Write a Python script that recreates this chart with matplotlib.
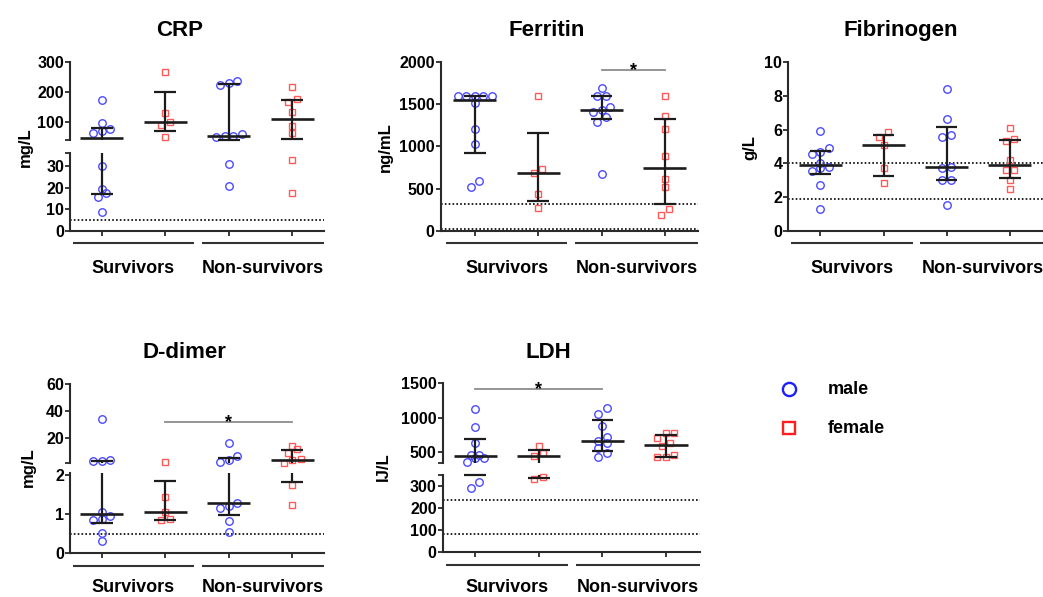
import numpy as np
import matplotlib
matplotlib.use("Agg")
import matplotlib.pyplot as plt
from matplotlib import transforms

plt.rcParams["font.family"] = ["Liberation Sans", "DejaVu Sans"]
plt.rcParams["font.weight"] = "bold"

# ---------------------------------------------------------------- data
groups = ["Survivors", "Non-survivors"]
sexes = ["male", "female"]

# column order: survivors-male, survivors-female, non-survivors-male, non-survivors-female
crp_surv_m = [173, 97, 69, 61, 74, 30, 17.3, 15.5, 19.3, 8.7]
crp_surv_f = [268, 130, 100, 89, 49.5]
crp_non_m = [236, 223, 231, 58, 53, 50, 48, 30.8, 20.7]
crp_non_f = [216, 175, 167, 134, 85, 61, 32.6, 17.6]

fer_surv_m = [1600, 1600, 1600, 1600, 1600, 1513, 1208, 1030, 590, 515]
fer_surv_f = [1600, 729, 681, 436, 265]
fer_non_m = [1699, 1600, 1600, 1466, 1433, 1413, 1347, 1295, 673]
fer_non_f = [1600, 1366, 1208, 887, 610, 515, 257, 186]

fib_surv_m = [5.92, 4.93, 4.69, 4.55, 4.04, 3.76, 3.70, 3.56, 2.69, 1.27]
fib_surv_f = [5.84, 5.58, 5.09, 3.70, 2.81]
fib_non_m = [8.42, 6.61, 5.68, 5.58, 3.80, 3.70, 2.99, 2.99, 1.50]
fib_non_f = [6.08, 5.43, 5.33, 4.20, 3.58, 3.58, 3.01, 2.50]

dd_surv_m = [34.2, 4.0, 3.3, 3.3, 1.05, 0.96, 0.87, 0.85, 0.51, 0.32]
dd_surv_f = [2.27, 1.45, 1.05, 0.88, 0.85]
dd_non_m = [16.3, 7.0, 4.05, 2.8, 1.28, 1.22, 1.15, 0.83, 0.54]
dd_non_f = [14.6, 11.9, 9.0, 4.5, 4.1, 2.1, 1.75, 1.24]

ldh_surv_m = [1123, 872, 630, 461, 461, 423, 413, 358, 315, 288]
ldh_surv_f = [597, 485, 447, 337, 328]
ldh_non_m = [1138, 1056, 886, 717, 670, 630, 568, 485, 428]
ldh_non_f = [785, 775, 703, 630, 592, 461, 428, 428]

# reference-range limits (dotted lines)
crp_ref = [5]
fer_ref = [320, 15]
fib_ref = [4.0, 1.9]
dd_ref = [0.5]
ldh_ref = [235, 81]

# ---------------------------------------------------------------- style
W, H = 1043, 597
fig = plt.figure(figsize=(W / 100, H / 100), dpi=100)

AX_COLOR = "#2a2a2a"
BAR_COLOR = "#1c1c1c"
SIG_COLOR = "#8c8c8c"
MALE_C = "#4a4aff"
FEMALE_C = "#ff5a5a"
TICK_FS = 11.5
GROUP_FS = 13
TITLE_FS = 16
YLAB_FS = 12


def rect(x0, y0, x1, y1):
    """Figure-fraction rectangle from pixel edges (origin top-left)."""
    return [x0 / W, 1 - y1 / H, (x1 - x0) / W, (y1 - y0) / H]


def make_segment(x0, x1, y0, y1, xlim, ylim, ticks, labels, bottom):
    ax = fig.add_axes(rect(x0, y0, x1, y1))
    ax.set_xlim(*xlim)
    ax.set_ylim(*ylim)
    ax.patch.set_alpha(0)
    for s in ("top", "right"):
        ax.spines[s].set_visible(False)
    ax.spines["left"].set_color(AX_COLOR)
    ax.spines["left"].set_linewidth(1.5)
    ax.set_yticks(ticks)
    ax.set_yticklabels(labels)
    ax.tick_params(axis="y", length=3.3, width=1.3, color=AX_COLOR, pad=1.0,
                   labelsize=TICK_FS)
    if bottom:
        ax.spines["bottom"].set_color(AX_COLOR)
        ax.spines["bottom"].set_linewidth(1.5)
        ax.set_xticks(range(4))
        ax.set_xticklabels([])
        ax.tick_params(axis="x", length=3.8, width=1.3, color=AX_COLOR)
    else:
        ax.spines["bottom"].set_visible(False)
        ax.set_xticks([])
    return ax


def rows_offsets(ypix, thr=6.5, step=8.5):
    """Horizontal pixel offsets so that close values sit side by side."""
    order = np.argsort(ypix, kind="stable")
    offs = np.zeros(len(ypix))
    row = []

    def flush(r):
        n = len(r)
        for k, j in enumerate(r):
            offs[j] = (k - (n - 1) / 2) * step

    for i in order:
        if row and ypix[i] - ypix[row[0]] > thr:
            flush(row)
            row = []
        row.append(i)
    flush(row)
    return offs


def draw_panel(series, segs, xlim, xpix, refs, sig, title, title_xy, ylabel, ylabel_xy,
               label_drop=42.6):
    x0, x1 = xpix
    axes = []
    for i, (ytop, ybot, ylim, ticks, labels) in enumerate(segs):
        axes.append(make_segment(x0, x1, ytop, ybot, xlim, ylim, ticks, labels, i == 0))
    lower = axes[0]

    def seg_for(v):
        for ax in axes:
            lo, hi = ax.get_ylim()
            if v <= hi:
                return ax
        return axes[-1]

    # reference range
    for r in refs:
        seg_for(r).axhline(r, color="black", lw=1.2, ls=(0, (1, 1.3)), zorder=1)

    # points + median/IQR
    for gx, vals in enumerate(series):
        vals = np.asarray(vals, float)
        color = MALE_C if gx % 2 == 0 else FEMALE_C
        marker = "o" if gx % 2 == 0 else "s"
        ms = 5.4 if marker == "o" else 4.9
        ypix = np.array([seg_for(v).transData.transform((gx, v))[1] for v in vals])
        offs = rows_offsets(ypix)
        for v, off in zip(vals, offs):
            ax = seg_for(v)
            xp, yp = ax.transData.transform((gx, v))
            xd = ax.transData.inverted().transform((xp + off, yp))[0]
            ax.plot(xd, v, marker=marker, ms=ms, mfc="none", mec=color, mew=1.0,
                    ls="none", clip_on=False, zorder=2)
        q1, med, q3 = np.percentile(vals, [25, 50, 75], method="weibull")
        kw = dict(color=BAR_COLOR, solid_capstyle="butt", zorder=4, clip_on=False)
        for ax in axes:
            lo, hi = ax.get_ylim()
            inside = lambda y: lo <= y <= hi
            if inside(med):
                ax.plot([gx - 0.34, gx + 0.34], [med, med], lw=1.9, **kw)
            for q in (q1, q3):
                if inside(q):
                    ax.plot([gx - 0.17, gx + 0.17], [q, q], lw=1.6, **kw)
            a, b = max(q1, lo), min(q3, hi)
            if a < b:
                ax.plot([gx, gx], [a, b], lw=1.6, **kw)

    # significance bar
    if sig is not None:
        a, b, yv = sig
        ax = seg_for(yv)
        ax.plot([a, b], [yv, yv], color=SIG_COLOR, lw=1.3, clip_on=False, zorder=3)
        ax.annotate("*", xy=((a + b) / 2, yv), xytext=(0, -3.6), textcoords="offset points",
                    ha="center", va="baseline", fontsize=13, annotation_clip=False)

    # group lines and labels under the x axis
    blend = transforms.blended_transform_factory(lower.transData, lower.transAxes)
    line_tr = blend + transforms.ScaledTranslation(0, -12.6 / 100, fig.dpi_scale_trans)
    text_tr = blend + transforms.ScaledTranslation(0, -label_drop / 100, fig.dpi_scale_trans)
    spans = [(-0.46, 1.46), (1.58, xlim[1])]
    for (a, b), name in zip(spans, groups):
        lower.plot([a, b], [0, 0], transform=line_tr, color="#333333", lw=1.5,
                   clip_on=False, solid_capstyle="butt")
        lower.text((a + b) / 2, 0, name, transform=text_tr, ha="center", va="baseline",
                   fontsize=GROUP_FS, clip_on=False)

    fig.text(title_xy[0] / W, 1 - title_xy[1] / H, title, ha="center", va="baseline",
             fontsize=TITLE_FS)
    fig.text(ylabel_xy[0] / W, 1 - ylabel_xy[1] / H, ylabel, ha="center", va="center",
             rotation=90, fontsize=YLAB_FS)


# CRP (broken axis)
draw_panel([crp_surv_m, crp_surv_f, crp_non_m, crp_non_f],
           [(153.0, 230.7, (0, 36), [0, 10, 20, 30, 36], ["0", "10", "20", "30", ""]),
            (62.3, 140.0, (38, 300), [38, 100, 200, 300], ["", "100", "200", "300"])],
           (-0.5, 3.5), (70, 324), crp_ref, None,
           "CRP", (180, 36), "mg/L", (25, 147))

# Ferritin
draw_panel([fer_surv_m, fer_surv_f, fer_non_m, fer_non_f],
           [(62.3, 230.7, (0, 2000), [0, 500, 1000, 1500, 2000],
             ["0", "500", "1000", "1500", "2000"])],
           (-0.54, 3.52), (440.7, 697.8), fer_ref, (2, 3, 1908),
           "Ferritin", (546.3, 36), "ng/mL", (385, 147))

# Fibrinogen
draw_panel([fib_surv_m, fib_surv_f, fib_non_m, fib_non_f],
           [(62.3, 230.7, (0, 10), [0, 2, 4, 6, 8, 10], ["0", "2", "4", "6", "8", "10"])],
           (-0.51, 3.55), (788.3, 1044.5), fib_ref, None,
           "Fibrinogen", (900.7, 36), "g/L", (750, 147))

# D-dimer (broken axis)
draw_panel([dd_surv_m, dd_surv_f, dd_non_m, dd_non_f],
           [(473.3, 553.3, (0, 2.05), [0, 1, 2], ["0", "1", "2"]),
            (384.0, 462.8, (2, 60), [2, 20, 40, 60], ["", "20", "40", "60"])],
           (-0.5, 3.5), (70, 324), dd_ref, (1, 3, 32.2),
           "D-dimer", (184, 358.3), "mg/L", (28.3, 467), label_drop=38.8)

# LDH (broken axis)
draw_panel([ldh_surv_m, ldh_surv_f, ldh_non_m, ldh_non_f],
           [(474.6, 552.3, (0, 350), [0, 100, 200, 300, 350], ["0", "100", "200", "300", ""]),
            (383.3, 462.7, (350, 1500), [350, 500, 1000, 1500], ["", "500", "1000", "1500"])],
           (-0.51, 3.54), (442.7, 700.3), ldh_ref, (0, 2, 1417),
           "LDH", (548.3, 357.7), "IJ/L", (383.3, 467), label_drop=39.8)

# legend
leg = fig.add_axes([0, 0, 1, 1])
leg.set_xlim(0, W)
leg.set_ylim(H, 0)
leg.axis("off")
leg.plot(789.3, 389.3, marker="o", ms=9.5, mfc="none", mec="#1e1eff", mew=1.7, ls="none")
leg.plot(789.3, 428.3, marker="s", ms=9.0, mfc="none", mec="#ff1e1e", mew=1.7, ls="none")
for yy, name in zip([389.3, 428.3], sexes):
    leg.text(828, yy, name, ha="left", va="center", fontsize=13)

fig.savefig("out.png", dpi=100)
